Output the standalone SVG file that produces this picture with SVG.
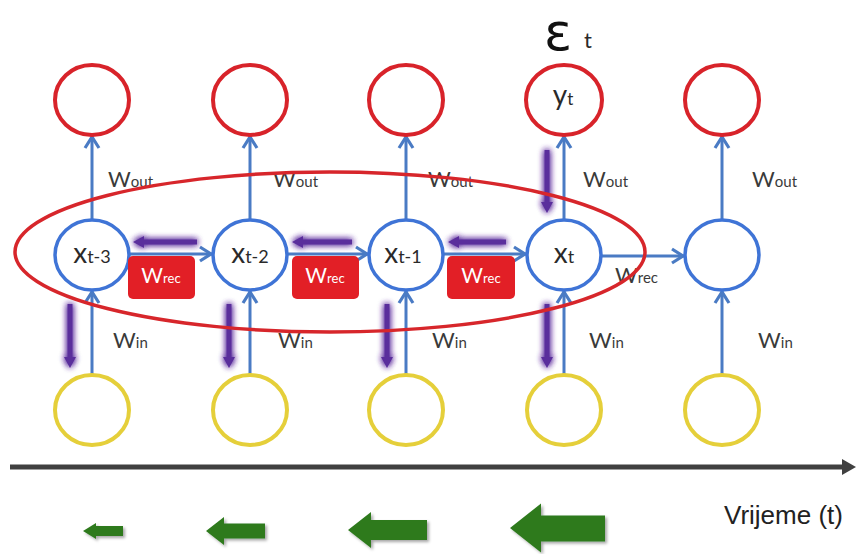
<svg xmlns="http://www.w3.org/2000/svg" width="856" height="554" viewBox="0 0 856 554">
<style>
.out{fill:#fff;stroke:#d8232a;stroke-width:4}
.hid{fill:#fff;stroke:#3f74d6;stroke-width:3.5}
.inp{fill:#fff;stroke:#e5cf3a;stroke-width:4}
.conn{stroke:#4a7bc4;stroke-width:3;fill:none;marker-end:url(#chev)}
.purp{stroke:#5a2d9c;stroke-width:5;fill:none;marker-end:url(#ph)}
.box{fill:#e21f26}
.lbl{font-family:Lato,"Open Sans",sans-serif;fill:#2a2a2a}
.wl{font-family:Lato,"Open Sans",sans-serif;fill:#3a3a3a}
.wr{font-family:Lato,"Open Sans",sans-serif;fill:#fff}
.green{fill:#2f7a1f}
</style>
<defs>
<marker id="chev" markerUnits="userSpaceOnUse" viewBox="-16 -10 20 20" markerWidth="20" markerHeight="20" refX="0" refY="0" orient="auto">
<path d="M-12,-7 L-1,0 L-12,7" fill="none" stroke="#4a7bc4" stroke-width="3.2"/>
</marker>
<marker id="ph" markerUnits="userSpaceOnUse" viewBox="-4 -8 16 16" markerWidth="16" markerHeight="16" refX="0" refY="0" orient="auto">
<path d="M0,-6 L11,0 L0,6 Z" fill="#5a2d9c"/>
</marker>
<filter id="glow" x="-50%" y="-50%" width="200%" height="200%">
<feGaussianBlur in="SourceGraphic" stdDeviation="3" result="b"/>
<feMerge><feMergeNode in="b"/><feMergeNode in="b"/><feMergeNode in="SourceGraphic"/></feMerge>
</filter>
<filter id="shadow" x="-20%" y="-30%" width="150%" height="170%">
<feDropShadow dx="2" dy="2" stdDeviation="1.5" flood-color="#000" flood-opacity="0.35"/>
</filter>
</defs>
<rect width="856" height="554" fill="#fff"/>

<g id="connectors">
<line class="conn" x1="92" y1="220" x2="92" y2="136"/>
<line class="conn" x1="250" y1="220" x2="250" y2="136"/>
<line class="conn" x1="406" y1="220" x2="406" y2="136"/>
<line class="conn" x1="564" y1="220" x2="564" y2="136"/>
<line class="conn" x1="722" y1="220" x2="722" y2="136"/>
<line class="conn" x1="92" y1="375" x2="92" y2="291"/>
<line class="conn" x1="250" y1="375" x2="250" y2="291"/>
<line class="conn" x1="406" y1="375" x2="406" y2="291"/>
<line class="conn" x1="564" y1="375" x2="564" y2="291"/>
<line class="conn" x1="722" y1="375" x2="722" y2="291"/>
<line class="conn" x1="129" y1="254" x2="212" y2="254"/>
<line class="conn" x1="287" y1="254" x2="368" y2="254"/>
<line class="conn" x1="443" y1="254" x2="526" y2="254"/>
<line class="conn" x1="601" y1="256" x2="684" y2="256"/>
</g>

<g id="out1"><ellipse class="out" cx="92" cy="100" rx="37" ry="35"/></g>
<g id="out2"><ellipse class="out" cx="250" cy="100" rx="37" ry="35"/></g>
<g id="out3"><ellipse class="out" cx="406" cy="100" rx="37" ry="35"/></g>
<g id="out4"><ellipse class="out" cx="564" cy="100" rx="38" ry="35"/>
<text class="lbl" x="563" y="105" text-anchor="middle"><tspan font-size="28">y</tspan><tspan font-size="17">t</tspan></text></g>
<g id="out5"><ellipse class="out" cx="722" cy="100" rx="37" ry="35"/></g>

<g id="hid1"><ellipse class="hid" cx="92" cy="255" rx="37" ry="35"/>
<text class="lbl" x="92" y="263" text-anchor="middle"><tspan font-size="28">x</tspan><tspan font-size="18">t-3</tspan></text></g>
<g id="hid2"><ellipse class="hid" cx="250" cy="255" rx="37" ry="35"/>
<text class="lbl" x="250" y="263" text-anchor="middle"><tspan font-size="28">x</tspan><tspan font-size="18">t-2</tspan></text></g>
<g id="hid3"><ellipse class="hid" cx="406" cy="255" rx="37" ry="35"/>
<text class="lbl" x="403" y="263" text-anchor="middle"><tspan font-size="28">x</tspan><tspan font-size="18">t-1</tspan></text></g>
<g id="hid4"><ellipse class="hid" cx="564" cy="255" rx="37" ry="35"/>
<text class="lbl" x="564" y="263" text-anchor="middle"><tspan font-size="28">x</tspan><tspan font-size="18">t</tspan></text></g>
<g id="hid5"><ellipse class="hid" cx="722" cy="255" rx="37" ry="35"/></g>

<g id="in1"><ellipse class="inp" cx="92" cy="410" rx="37" ry="35"/></g>
<g id="in2"><ellipse class="inp" cx="250" cy="410" rx="37" ry="35"/></g>
<g id="in3"><ellipse class="inp" cx="406" cy="410" rx="37" ry="35"/></g>
<g id="in4"><ellipse class="inp" cx="564" cy="410" rx="37" ry="35"/></g>
<g id="in5"><ellipse class="inp" cx="722" cy="410" rx="37" ry="35"/></g>

<g id="wrec-boxes">
<rect class="box" x="128" y="256" width="67" height="43" rx="5"/>
<rect class="box" x="292" y="256" width="67" height="43" rx="5"/>
<rect class="box" x="447" y="256" width="68" height="43" rx="5"/>
<text class="wr" x="161" y="283" text-anchor="middle"><tspan font-size="21">W</tspan><tspan font-size="13">rec</tspan></text>
<text class="wr" x="325" y="283" text-anchor="middle"><tspan font-size="21">W</tspan><tspan font-size="13">rec</tspan></text>
<text class="wr" x="481" y="283" text-anchor="middle"><tspan font-size="21">W</tspan><tspan font-size="13">rec</tspan></text>
</g>

<g id="weight-labels">
<text class="wl" x="108" y="187"><tspan font-size="22">W</tspan><tspan font-size="15">out</tspan></text>
<text class="wl" x="273" y="187"><tspan font-size="22">W</tspan><tspan font-size="15">out</tspan></text>
<text class="wl" x="428" y="187"><tspan font-size="22">W</tspan><tspan font-size="15">out</tspan></text>
<text class="wl" x="583" y="187"><tspan font-size="22">W</tspan><tspan font-size="15">out</tspan></text>
<text class="wl" x="752" y="187"><tspan font-size="22">W</tspan><tspan font-size="15">out</tspan></text>
<text class="wl" x="113" y="348"><tspan font-size="22">W</tspan><tspan font-size="15">in</tspan></text>
<text class="wl" x="278" y="348"><tspan font-size="22">W</tspan><tspan font-size="15">in</tspan></text>
<text class="wl" x="432" y="348"><tspan font-size="22">W</tspan><tspan font-size="15">in</tspan></text>
<text class="wl" x="589" y="348"><tspan font-size="22">W</tspan><tspan font-size="15">in</tspan></text>
<text class="wl" x="758" y="348"><tspan font-size="22">W</tspan><tspan font-size="15">in</tspan></text>
<text class="wl" x="615" y="283"><tspan font-size="22">W</tspan><tspan font-size="15">rec</tspan></text>
</g>

<g id="error-label">
<text x="544" y="50" font-family="DejaVu Sans,sans-serif" font-size="52" fill="#111">ε</text>
<text class="lbl" x="584" y="48" font-size="22">t</text>
</g>

<g id="backprop" filter="url(#glow)">
<line class="purp" x1="197" y1="242" x2="144" y2="242"/>
<line class="purp" x1="352" y1="242" x2="303" y2="242"/>
<line class="purp" x1="506" y1="242" x2="459" y2="242"/>
<line class="purp" x1="70" y1="304" x2="70" y2="357"/>
<line class="purp" x1="229" y1="304" x2="229" y2="357"/>
<line class="purp" x1="387" y1="304" x2="387" y2="357"/>
<line class="purp" x1="547" y1="304" x2="547" y2="357"/>
<line class="purp" x1="547" y1="150" x2="547" y2="202"/>
</g>

<g id="unroll-ellipse">
<ellipse cx="330" cy="252" rx="315" ry="80" fill="none" stroke="#d7262b" stroke-width="3.5"/>
</g>

<g id="timeline">
<line x1="10" y1="467" x2="844" y2="467" stroke="#404040" stroke-width="5"/>
<polygon points="842,459 856,467 842,475" fill="#404040"/>
<text x="724" y="524" font-family="Liberation Sans,Arial,sans-serif" font-size="26" fill="#222">Vrijeme (t)</text>
</g>

<g id="gradient-arrows" filter="url(#shadow)">
<polygon class="green" points="83,531 96,523 96,526 123,526 123,536 96,536 96,539"/>
<polygon class="green" points="206,531 224,517 224,523.5 265,523.5 265,538.5 224,538.5 224,545"/>
<polygon class="green" points="348,530 371,512 371,520 427,520 427,540 371,540 371,548"/>
<polygon class="green" points="510,528 541,503.5 541,515.5 605,515.5 605,541.5 541,541.5 541,552.5"/>
</g>
</svg>
